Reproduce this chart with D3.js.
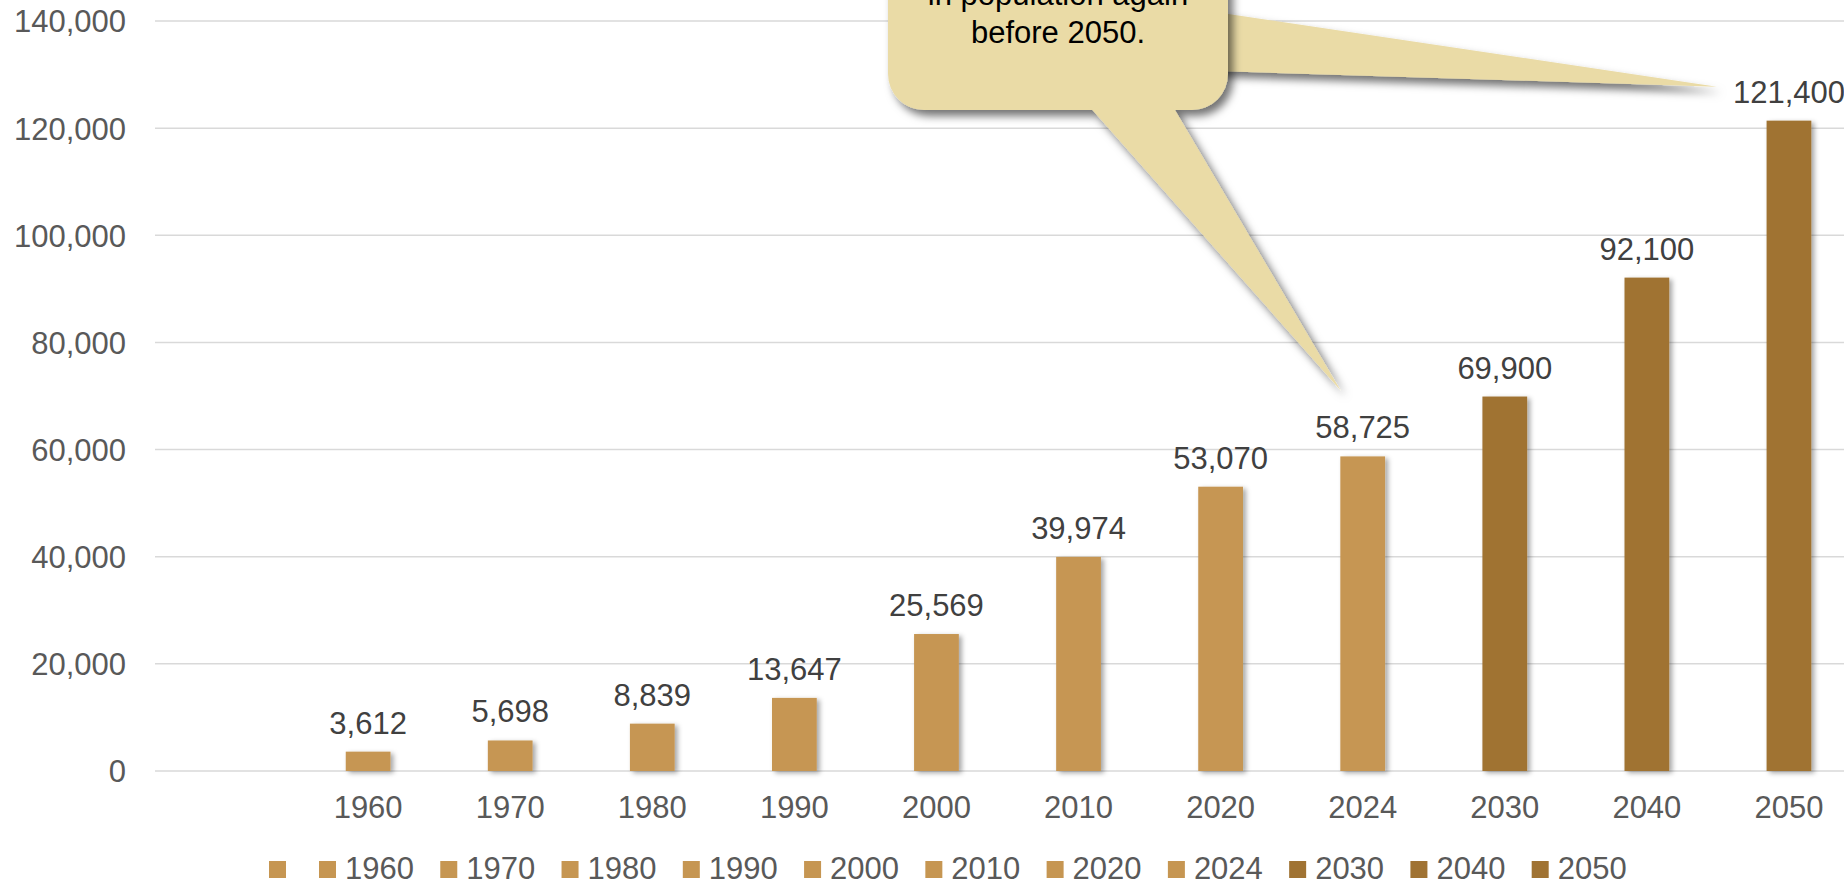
<!DOCTYPE html>
<html>
<head>
<meta charset="utf-8">
<script src="https://cdn.jsdelivr.net/npm/d3@7"></script>
<style>
  html, body { margin: 0; padding: 0; background: #fff; overflow: hidden; }
  svg { display: block; font-family: "Liberation Sans", Arial, sans-serif; }
</style>
</head>
<body>
<svg id="chart" width="1844" height="883"></svg>
<script>
// ---- data ----
const categories = ["", "1960", "1970", "1980", "1990", "2000", "2010", "2020", "2024", "2030", "2040", "2050"];
const values = [null, 3612, 5698, 8839, 13647, 25569, 39974, 53070, 58725, 69900, 92100, 121400];
const projectedYears = ["2030", "2040", "2050"];
const yTicks = [0, 20000, 40000, 60000, 80000, 100000, 120000, 140000];
const calloutLines = ["in population again", "before 2050."];

// ---- layout ----
const W = 1844, H = 883;
const x0 = 155, x1 = 1860;
const yBase = 771, yTop = 21;
const colorHist = "#C69652", colorProj = "#A07333";

const svg = d3.select("#chart");
const defs = svg.append("defs");
const fb = defs.append("filter").attr("id", "barShadow").attr("x", "-30%").attr("y", "-30%").attr("width", "170%").attr("height", "170%");
fb.append("feDropShadow").attr("dx", 3).attr("dy", 2).attr("stdDeviation", 2.5).attr("flood-color", "#000").attr("flood-opacity", 0.35);
const fc = defs.append("filter").attr("id", "calloutShadow").attr("x", "-20%").attr("y", "-20%").attr("width", "140%").attr("height", "150%");
fc.append("feDropShadow").attr("dx", 5).attr("dy", 6).attr("stdDeviation", 4).attr("flood-color", "#000").attr("flood-opacity", 0.55);

const x = d3.scaleBand().domain(categories).range([x0, x1]).paddingInner(0.685).paddingOuter(0.3425);
const y = d3.scaleLinear().domain([0, 140000]).range([yBase, yTop]);
const fmt = d3.format(",");

// gridlines
svg.append("g").selectAll("line").data(yTicks).join("line")
  .attr("x1", x0).attr("x2", W)
  .attr("y1", d => y(d)).attr("y2", d => y(d))
  .attr("stroke", "#D9D9D9").attr("stroke-width", 1.5);

// y axis labels
const yAxis = d3.axisLeft(y).tickValues(yTicks).tickFormat(fmt).tickSize(0).tickPadding(0);
const gy = svg.append("g").attr("transform", "translate(126,0)").call(yAxis);
gy.select(".domain").remove();
gy.selectAll("text").attr("font-size", 31).attr("fill", "#595959").attr("font-family", "Liberation Sans, Arial, sans-serif").attr("dy", "0.35em");

// x axis labels
const xAxis = d3.axisBottom(x).tickSize(0).tickPadding(0);
const gx = svg.append("g").attr("transform", "translate(0,796)").call(xAxis);
gx.select(".domain").remove();
gx.selectAll("text").attr("font-size", 31).attr("fill", "#595959").attr("font-family", "Liberation Sans, Arial, sans-serif").attr("dy", "0.71em");

// bars
const data = categories.map((c, i) => ({ c, v: values[i] })).filter(d => d.v != null);
svg.append("g").selectAll("rect").data(data).join("rect")
  .attr("x", d => x(d.c)).attr("width", x.bandwidth())
  .attr("y", d => y(d.v)).attr("height", d => yBase - y(d.v))
  .attr("fill", d => projectedYears.includes(d.c) ? colorProj : colorHist)
  .attr("filter", "url(#barShadow)");

// data labels
svg.append("g").selectAll("text").data(data).join("text")
  .attr("x", d => x(d.c) + x.bandwidth() / 2)
  .attr("y", d => y(d.v) - 18)
  .attr("text-anchor", "middle").attr("font-size", 31).attr("fill", "#404040")
  .text(d => fmt(d.v));

// callout
const bubbleFill = "#EADBA6";
// tail to 2050 label (behind bubble)
const t2 = [[1215, 12], [x("2050") + x.bandwidth() / 2 - 72, y(values[11]) - 34], [1215, 71]];
svg.append("path").attr("d", d3.line()(t2) + "Z").attr("fill", bubbleFill).attr("filter", "url(#calloutShadow)");
// bubble + tail to 2024 label
const t1 = [[1088, 105], [x("2024") + x.bandwidth() / 2 - 22, y(values[8]) - 66], [1172, 105]];
const cg = svg.append("g").attr("filter", "url(#calloutShadow)");
cg.append("rect").attr("x", 888).attr("y", -120).attr("width", 340).attr("height", 230).attr("rx", 36).attr("fill", bubbleFill);
cg.append("path").attr("d", d3.line()(t1) + "Z").attr("fill", bubbleFill);
svg.append("g").selectAll("text").data(calloutLines).join("text")
  .attr("x", 1058).attr("y", (d, i) => 5 + i * 38)
  .attr("text-anchor", "middle").attr("font-size", 31).attr("fill", "#000")
  .text(d => d);

// legend
const lg = svg.append("g");
let cx = 269;
categories.forEach(c => {
  lg.append("rect").attr("x", cx).attr("y", 861).attr("width", 17).attr("height", 17)
    .attr("fill", projectedYears.includes(c) ? colorProj : colorHist);
  if (c === "") { cx += 50; return; }
  const t = lg.append("text").attr("x", cx + 26).attr("y", 879).attr("font-size", 31).attr("fill", "#595959").text(c);
  cx += 26 + t.node().getComputedTextLength() + 26.3;
});
</script>
</body>
</html>
